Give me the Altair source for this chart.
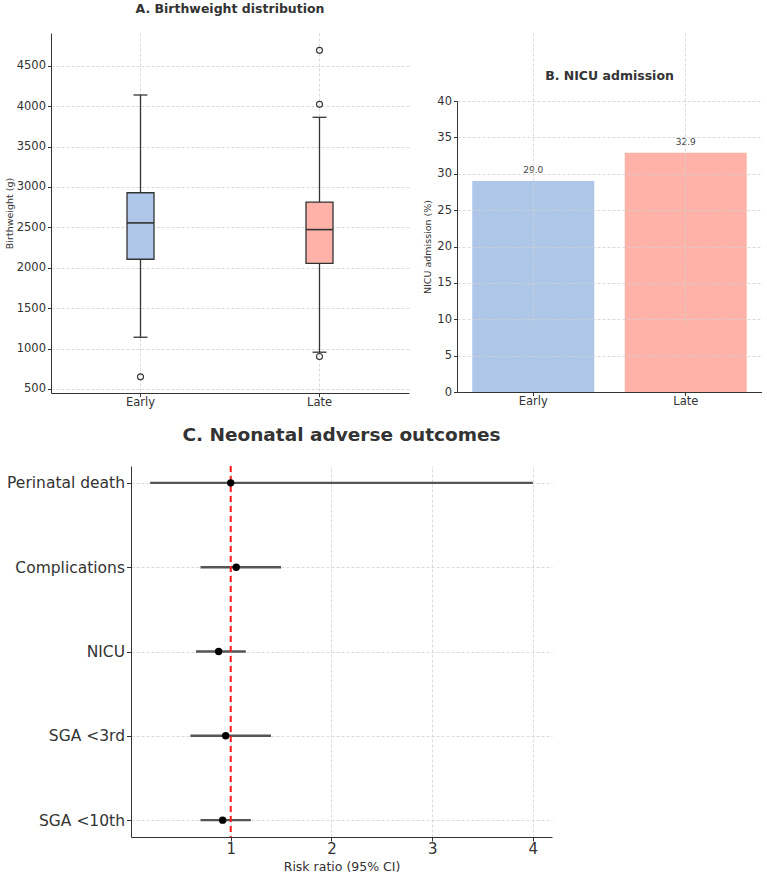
import altair as alt
import pandas as pd

# ---------------- data ----------------
groups = ["Early", "Late"]
q1 = [2105, 2055]
median = [2555, 2472]
q3 = [2928, 2813]
whisker_lo = [1140, 955]
whisker_hi = [4138, 3862]
outlier_group = ["Early", "Late", "Late", "Late"]
outlier_value = [650, 4690, 4022, 902]
bw_ticks = [500, 1000, 1500, 2000, 2500, 3000, 3500, 4000, 4500]

nicu_pct = [29.0, 32.9]
pct_ticks = [0, 5, 10, 15, 20, 25, 30, 35, 40]

outcomes = ["Perinatal death", "Complications", "NICU", "SGA <3rd", "SGA <10th"]
rr = [1.0, 1.055, 0.88, 0.95, 0.92]
ci_lo = [0.20, 0.70, 0.655, 0.60, 0.70]
ci_hi = [4.00, 1.50, 1.15, 1.40, 1.20]
rr_ticks = [1, 2, 3, 4]
ref_value = 1

colors = ["#aec7e8", "#ffb3a8"]
DARK = "#333333"
FONT = "DejaVu Sans"

box_df = pd.DataFrame({"group": groups, "q1": q1, "median": median, "q3": q3,
                       "lo": whisker_lo, "hi": whisker_hi})
out_df = pd.DataFrame({"group": outlier_group, "value": outlier_value})
nicu_df = pd.DataFrame({"group": groups, "pct": nicu_pct})
forest_df = pd.DataFrame({"outcome": outcomes, "rr": rr, "lo": ci_lo, "hi": ci_hi})

grid = dict(grid=True, gridDash=[3, 2], gridColor="#d0d0d0", gridWidth=0.8,
            domainColor=DARK, tickColor=DARK, labelColor=DARK, titleColor=DARK,
            titleFontWeight="normal", labelFont=FONT, titleFont=FONT, labelOverlap=False)

# ---------------- Panel A ----------------
xA = alt.X("group:N", sort=groups,
           scale=alt.Scale(domain=groups, paddingInner=0, paddingOuter=0),
           axis=alt.Axis(title=None, labelAngle=0, labelFontSize=11.5, bandPosition=0.5,
                         tickSize=3.5, labelPadding=0, **grid))
yscaleA = alt.Scale(domain=[450, 4905], nice=False, zero=False)
yaxisA = alt.Axis(values=bw_ticks, format="d", title="Birthweight (g)", titleFontSize=9.5,
                  labelFontSize=11.5, tickSize=3.5, labelPadding=2, titlePadding=2, **grid)

baseA = alt.Chart(box_df)
whisk = baseA.mark_rule(color=DARK, strokeWidth=1.3).encode(
    x=xA, y=alt.Y("lo:Q", scale=yscaleA, axis=yaxisA), y2="hi:Q")
box = baseA.mark_bar(size=27, stroke=DARK, strokeWidth=1.3).encode(
    x=xA, y=alt.Y("q1:Q", scale=yscaleA, axis=yaxisA), y2="q3:Q",
    color=alt.Color("group:N", scale=alt.Scale(domain=groups, range=colors), legend=None))
med = baseA.mark_tick(size=27, thickness=1.6, color=DARK, opacity=1).encode(
    x=xA, y=alt.Y("median:Q", scale=yscaleA, axis=yaxisA))
cap_lo = baseA.mark_tick(size=14, thickness=1.3, color=DARK, opacity=1).encode(
    x=xA, y=alt.Y("lo:Q", scale=yscaleA, axis=yaxisA))
cap_hi = baseA.mark_tick(size=14, thickness=1.3, color=DARK, opacity=1).encode(
    x=xA, y=alt.Y("hi:Q", scale=yscaleA, axis=yaxisA))
outs = alt.Chart(out_df).mark_point(shape="circle", filled=False, size=36, color=DARK,
                                    strokeWidth=1.1, opacity=1).encode(
    x=xA, y=alt.Y("value:Q", scale=yscaleA, axis=yaxisA))

panelA = alt.layer(whisk, box, med, cap_lo, cap_hi, outs).properties(
    width=358, height=360,
    title=alt.TitleParams("A. Birthweight distribution", fontSize=12.5, fontWeight="bold",
                          color=DARK, font=FONT, frame="group", anchor="middle", offset=18))

# ---------------- Panel B ----------------
xB = alt.X("group:N", sort=groups,
           scale=alt.Scale(domain=groups, paddingInner=0.2, paddingOuter=0.1),
           axis=alt.Axis(title=None, labelAngle=0, labelFontSize=11.5, bandPosition=0.5,
                         tickSize=3.5, labelPadding=0, zindex=1, **grid))
yB = alt.Y("pct:Q", scale=alt.Scale(domain=[0, 40], nice=False, range=[359, 68]),
           axis=alt.Axis(values=pct_ticks, title="NICU admission (%)", titleFontSize=9.5,
                         labelFontSize=11.5, tickSize=3.5, labelPadding=2, titlePadding=4,
                         zindex=1, **grid))
baseB = alt.Chart(nicu_df)
bars = baseB.mark_bar().encode(
    x=xB, y=yB,
    color=alt.Color("group:N", scale=alt.Scale(domain=groups, range=colors), legend=None))
labels = baseB.mark_text(fontSize=9, color="#444444", baseline="bottom", dy=-6, font=FONT).encode(
    x=xB, y=yB, text=alt.Text("pct:Q", format=".1f"))
panelB = alt.layer(bars, labels).properties(
    width=305, height=359,
    title=alt.TitleParams("B. NICU admission", fontSize=12.5, fontWeight="bold",
                          color=DARK, font=FONT, frame="group", anchor="middle",
                          offset=18, dy=67))

top = alt.hconcat(panelA, panelB, spacing=13)

# ---------------- Panel C ----------------
yC = alt.Y("outcome:N", sort=outcomes,
           scale=alt.Scale(domain=outcomes, type="point", padding=0.2),
           axis=alt.Axis(title=None, labelFontSize=15.5, tickSize=4.5, labelPadding=2,
                         offset=-80, **grid))
xscaleC = alt.Scale(domain=[0.01, 4.19], nice=False, zero=False, range=[80, 501])
xaxisC = alt.Axis(values=rr_ticks, format="d", title="Risk ratio (95% CI)",
                  titleFontSize=12.5, labelFontSize=15, tickSize=4, labelPadding=0,
                  titlePadding=4, **grid)
baseC = alt.Chart(forest_df)
ci = baseC.mark_rule(color="#555555", strokeWidth=2.4).encode(
    x=alt.X("lo:Q", scale=xscaleC, axis=xaxisC), x2="hi:Q", y=yC)
refline = alt.Chart(pd.DataFrame({"ref": [ref_value]})).mark_rule(
    color="#ff1a1a", strokeWidth=2, strokeDash=[6, 4]).encode(
    x=alt.X("ref:Q", scale=xscaleC, axis=xaxisC))
pts = baseC.mark_point(filled=True, color="black", size=55, opacity=1).encode(
    x=alt.X("rr:Q", scale=xscaleC, axis=xaxisC), y=yC)
panelC = alt.layer(ci, refline, pts).properties(
    width=501, height=371,
    title=alt.TitleParams("C. Neonatal adverse outcomes", fontSize=18.5, fontWeight="bold",
                          color=DARK, font=FONT, frame="group", anchor="middle", offset=21,
                          dx=40))

chart = alt.vconcat(top, panelC, spacing=17).properties(
    padding={"left": 4, "top": 2, "right": 0, "bottom": 0},
    background="white",
).configure(font=FONT, view=alt.ViewConfig(stroke=None))

chart.save("out.html", embed_options={"renderer": "svg", "actions": False})
